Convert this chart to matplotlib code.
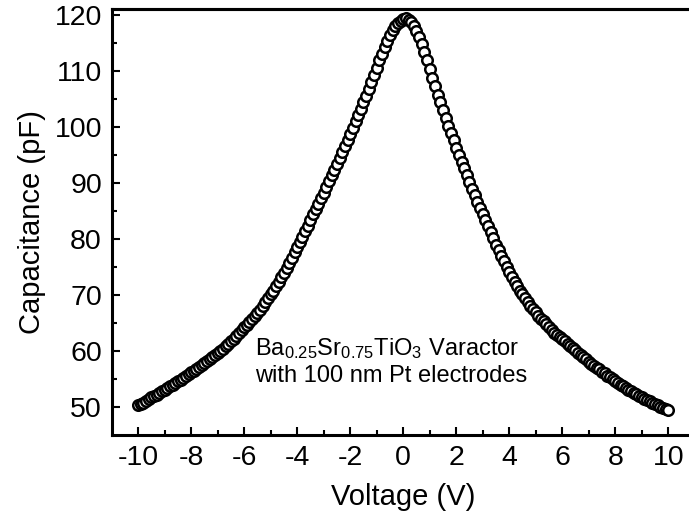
import matplotlib
matplotlib.use("Agg")
import matplotlib.pyplot as plt
import numpy as np

plt.rcParams['font.family'] = ['Liberation Sans', 'DejaVu Sans']
plt.rcParams['mathtext.fontset'] = 'custom'
plt.rcParams['mathtext.rm'] = 'Liberation Sans'
plt.rcParams['mathtext.it'] = 'Liberation Sans:italic'

# Voltage sweep, -10 V to 10 V in 0.1 V steps
voltage = [round(-10 + 0.1 * i, 1) for i in range(201)]

cap_left = [
    50.3, 50.6, 50.8, 51.1, 51.4, 51.7, 51.9, 52.2, 52.5, 52.8,   # -10.0 .. -9.1
    53.1, 53.4, 53.7, 54.0, 54.3, 54.6, 54.9, 55.2, 55.5, 55.9,   # -9.0 .. -8.1
    56.2, 56.5, 56.8, 57.1, 57.5, 57.8, 58.2, 58.5, 58.9, 59.2,   # -8.0 .. -7.1
    59.6, 60.0, 60.4, 60.9, 61.3, 61.8, 62.2, 62.7, 63.2, 63.7,   # -7.0 .. -6.1
    64.2, 64.7, 65.2, 65.7, 66.2, 66.8, 67.4, 68.0, 68.7, 69.4,   # -6.0 .. -5.1
    70.1, 70.8, 71.6, 72.4, 73.2, 74.0, 74.9, 75.8, 76.7, 77.6,   # -5.0 .. -4.1
    78.5, 79.4, 80.4, 81.4, 82.4, 83.4, 84.4, 85.4, 86.3, 87.3,   # -4.0 .. -3.1
    88.3, 89.3, 90.3, 91.4, 92.4, 93.4, 94.5, 95.6, 96.6, 97.7,   # -3.0 .. -2.1
    98.8, 99.9, 101.0, 102.1, 103.3, 104.4, 105.6, 106.8, 108.0, 109.3,  # -2.0 .. -1.1
    110.6, 111.9, 113.1, 114.3, 115.4, 116.4, 117.3, 118.0, 118.6, 119.0,  # -1.0 .. -0.1
    119.3,                                                          # 0.0
]

cap_right = [
    119.4, 119.2, 118.8, 118.1, 117.2, 116.1, 114.8, 113.4, 111.9, 110.4,  # 0.1 .. 1.0
    108.8, 107.3, 105.8, 104.4, 103.0, 101.6, 100.2, 98.9, 97.6, 96.3,     # 1.1 .. 2.0
    95.0, 93.8, 92.6, 91.4, 90.2, 89.0, 87.8, 86.7, 85.6, 84.5,            # 2.1 .. 3.0
    83.4, 82.3, 81.2, 80.1, 79.0, 78.0, 77.0, 76.0, 75.0, 74.1,            # 3.1 .. 4.0
    73.2, 72.4, 71.6, 70.8, 70.1, 69.4, 68.7, 68.1, 67.5, 66.9,            # 4.1 .. 5.0
    66.3, 65.8, 65.3, 64.8, 64.3, 63.8, 63.3, 62.9, 62.5, 62.1,            # 5.1 .. 6.0
    61.7, 61.3, 60.9, 60.5, 60.1, 59.7, 59.3, 58.9, 58.5, 58.1,            # 6.1 .. 7.0
    57.7, 57.4, 57.0, 56.7, 56.3, 56.0, 55.6, 55.3, 55.0, 54.7,            # 7.1 .. 8.0
    54.3, 54.0, 53.7, 53.4, 53.1, 52.8, 52.5, 52.3, 52.0, 51.7,            # 8.1 .. 9.0
    51.5, 51.2, 51.0, 50.7, 50.5, 50.3, 50.0, 49.8, 49.6, 49.4,            # 9.1 .. 10.0
]

capacitance = cap_left + cap_right

x_major = [-10, -8, -6, -4, -2, 0, 2, 4, 6, 8, 10]
x_minor = [-9, -7, -5, -3, -1, 1, 3, 5, 7, 9]
y_major = [50, 60, 70, 80, 90, 100, 110, 120]
y_minor = [55, 65, 75, 85, 95, 105, 115]

fig = plt.figure(figsize=(6.89, 5.26), dpi=100)
ax = fig.add_axes([0.1621, 0.173, 0.8462, 0.809])

ax.plot(voltage, capacitance, linestyle='none', marker='o', markersize=7.6,
        markerfacecolor='white', markeredgecolor='black', markeredgewidth=1.8)

ax.set_xlim(-11, 11)
ax.set_ylim(45, 121)

ax.set_xticks(x_major)
ax.set_xticks(x_minor, minor=True)
ax.set_yticks(y_major)
ax.set_yticks(y_minor, minor=True)
ax.set_xticklabels([str(v) for v in x_major])

for s in ax.spines.values():
    s.set_linewidth(2.2)
ax.spines['right'].set_visible(False)

ax.tick_params(axis='both', which='major', direction='in', length=6, width=1.5,
               labelsize=20.5, pad=7)
ax.tick_params(axis='both', which='minor', direction='in', length=3.5, width=1.5)
ax.tick_params(axis='x', which='both', top=False)
ax.tick_params(axis='y', which='both', right=False)

# tiny ticks on the top axis
sec = ax.secondary_xaxis('top')
sec.set_xticks(list(range(-10, 11)))
sec.tick_params(direction='inout', length=2, width=1.2, labeltop=False)
sec.spines['top'].set_linewidth(2.2)

ax.set_xlabel('Voltage (V)', fontsize=21, labelpad=9)
ax.set_ylabel('Capacitance (pF)', fontsize=21, labelpad=6)

ax.text(-5.6, 59.2, 'Ba$_\\mathregular{0.25}$Sr$_\\mathregular{0.75}$TiO$_\\mathregular{3}$ Varactor',
        fontsize=17, ha='left', va='baseline')
ax.text(-5.6, 54.5, 'with 100 nm Pt electrodes', fontsize=17, ha='left', va='baseline')

fig.savefig('out.png', dpi=100)
